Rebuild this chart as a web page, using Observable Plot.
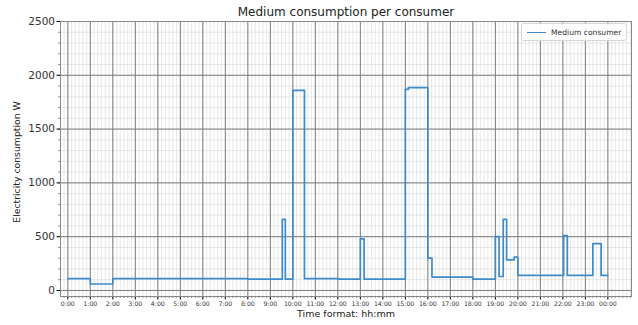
<!DOCTYPE html>
<html>
<head>
<meta charset="utf-8">
<script src="https://cdn.jsdelivr.net/npm/d3@7"></script>
<script src="https://cdn.jsdelivr.net/npm/@observablehq/plot@0.6"></script>
<style>
  body { margin: 0; background: #fff; font-family: "DejaVu Sans", sans-serif; }
  #wrap { position: relative; width: 638px; height: 325px; }
  #legend {
    position: absolute; left: 521px; top: 23px; width: 104px; height: 16px;
    border: 1px solid #d6d6d6; border-radius: 3px; background: rgba(255,255,255,0.9);
    font-size: 7.6px; color: #333; display: flex; align-items: center;
  }
  #legend .sw { width: 19px; height: 0; border-top: 1.6px solid #3d8bcb; margin: 0 5px 0 5px; }
</style>
</head>
<body>
<div id="wrap"></div>
<script>
// Step profile: time of change (hh:mm) and the consumption (W) from that time on
const times = ["00:00","01:00","02:00","08:00","09:32","09:40","10:00","10:31","12:00","13:00","13:10","15:00","15:08","16:00","16:11","18:00","19:00","19:10","19:21","19:30","19:50","20:00","22:02","22:12","23:20","23:42","24:00"];
const watts = [110, 60, 110, 105, 660, 105, 1860, 110, 105, 480, 105, 1870, 1885, 300, 125, 105, 500, 130, 660, 285, 310, 140, 510, 140, 435, 140, 140];

const hourTicks = d3.range(0, 25);
const yTicks = [0, 500, 1000, 1500, 2000, 2500];
const title = "Medium consumption per consumer";
const yLabel = "Electricity consumption W";
const xLabel = "Time format: hh:mm";
const seriesName = "Medium consumer";

const toHours = s => { const [h, m] = s.split(":").map(Number); return h + m / 60; };
const data = times.map((t, i) => ({ t: toHours(t), w: watts[i] }));

const xDomain = [-0.325, 25.05];
const yDomain = [-56, 2500];
const xMinor = d3.range(-2 / 6, 25.05, 1 / 6).filter(v => v >= xDomain[0] && v <= xDomain[1]);
const yMinor = d3.range(0, 2501, 100);

const fmt = h => h === 24 ? "00:00" : `${h}:00`;

const chart = Plot.plot({
  width: 638,
  height: 325,
  marginLeft: 60,
  marginRight: 7,
  marginTop: 21,
  marginBottom: 29,
  style: { fontFamily: "DejaVu Sans, sans-serif", background: "#fff", overflow: "visible" },
  x: { domain: xDomain, label: null },
  y: { domain: yDomain, label: null },
  marks: [
    Plot.ruleX(xMinor, { stroke: "#d9d9d9", strokeWidth: 0.6 }),
    Plot.ruleY(yMinor, { stroke: "#d9d9d9", strokeWidth: 0.6 }),
    Plot.ruleX(hourTicks, { stroke: "#7c7c7c", strokeWidth: 1 }),
    Plot.ruleY(yTicks, { stroke: "#7c7c7c", strokeWidth: 1 }),
    Plot.axisX(xMinor, { tickSize: 2, tickFormat: () => "", stroke: "#444", strokeWidth: 0.6, label: null }),
    Plot.axisY(yMinor, { tickSize: 2, tickFormat: () => "", stroke: "#444", strokeWidth: 0.6, label: null }),
    Plot.axisX(hourTicks, { tickSize: 3.5, tickPadding: 2, tickFormat: fmt, fontSize: 6.2, fill: "#333", label: null }),
    Plot.axisY(yTicks, { tickSize: 3.5, tickPadding: 2, tickFormat: d => String(d), fontSize: 10.5, fill: "#333", label: null }),
    Plot.frame({ stroke: "#888", strokeWidth: 1 }),
    Plot.line(data, { x: "t", y: "w", curve: "step-after", stroke: "#3d8bcb", strokeWidth: 1.7 }),
    Plot.text([title], { frameAnchor: "top", dy: -14, fontSize: 12, fill: "#222" }),
    Plot.text([xLabel], { frameAnchor: "bottom", dy: 20, fontSize: 9.5, fill: "#222" }),
    Plot.text([yLabel], { frameAnchor: "left", textAnchor: "middle", dx: -43, dy: 3, rotate: -90, fontSize: 9.3, fill: "#222" })
  ]
});

const wrap = document.getElementById("wrap");
wrap.appendChild(chart);
const lg = document.createElement("div");
lg.id = "legend";
lg.innerHTML = `<span class="sw"></span><span>${seriesName}</span>`;
wrap.appendChild(lg);
</script>
</body>
</html>
